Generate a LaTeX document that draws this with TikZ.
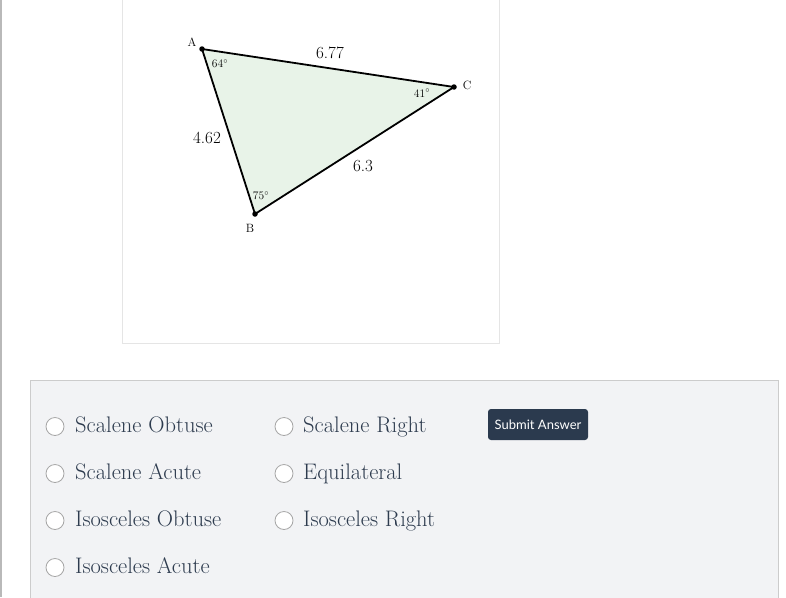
\documentclass[tikz,border=0pt]{standalone}
\usepackage{fontspec}
\newfontfamily\btnfont{Lato}
\definecolor{panelgray}{HTML}{F2F3F5}
\definecolor{panelline}{HTML}{CCCCCC}
\definecolor{inkslate}{HTML}{2D3B4E}
\definecolor{btnblue}{HTML}{2B3A4E}
\definecolor{trifill}{HTML}{E8F3E8}
\tikzset{
  radio/.style={circle,draw=gray!70,fill=white,line width=0.8pt,minimum size=18pt,inner sep=0pt},
  choice/.style={anchor=base west,text=inkslate,font=\fontsize{22.5}{26}\selectfont,inner sep=0pt},
  vertex/.style={circle,fill=black,inner sep=0pt,minimum size=5.5pt},
  vlabel/.style={font=\fontsize{12}{14}\selectfont,inner sep=0pt},
  side/.style={font=\fontsize{17}{19}\selectfont,inner sep=0pt},
  ang/.style={font=\fontsize{11.5}{13}\selectfont,inner sep=0pt}
}
\begin{document}
\begin{tikzpicture}[x=1pt,y=-1pt]
      \useasboundingbox (0,0) rectangle (786,597);
      \fill[white] (0,0) rectangle (786,597);
      \fill[gray!55] (0,0) rectangle (2,597);
      % figure box
      \draw[gray!20] (122.5,-2) rectangle (499.5,343.5);
      % triangle
      \coordinate (A) at (202,49);
      \coordinate (B) at (255,214);
      \coordinate (C) at (454,87);
      \filldraw[fill=trifill,draw=black,line width=1.8pt,line join=round] (A) -- (C) -- (B) -- cycle;
      \node[vertex] (pa) at (A) {};
      \node[vertex] (pb) at (B) {};
      \node[vertex] (pc) at (C) {};
      \node[vlabel] (la) at (192,42) {A};
      \node[vlabel] (lb) at (250,228) {B};
      \node[vlabel] (lc) at (467,85) {C};
      \node[side] (sac) at (330,53) {6.77};
      \node[side] (sab) at (207,138) {4.62};
      \node[side] (sbc) at (363,166) {6.3};
      \node[ang] (aa) at (220,64) {64$^\circ$};
      \node[ang] (ac) at (422,93) {41$^\circ$};
      \node[ang] (ab) at (261,196) {75$^\circ$};
      % answer panel
      \fill[panelgray] (30,380) rectangle (778,600);
      \draw[panelline] (30.5,600) -- (30.5,380.5) -- (778.5,380.5) -- (778.5,600);
      \node[radio] (r1) at (55,426.5) {};
      \node[radio] (r2) at (55,473.5) {};
      \node[radio] (r3) at (55,520.5) {};
      \node[radio] (r4) at (55,567.5) {};
      \node[radio] (r5) at (284,426.5) {};
      \node[radio] (r6) at (284,473.5) {};
      \node[radio] (r7) at (284,520.5) {};
      \node[choice] (t1) at (75,432) {Scalene Obtuse};
      \node[choice] (t2) at (75,479) {Scalene Acute};
      \node[choice] (t3) at (75,526) {Isosceles Obtuse};
      \node[choice] (t4) at (75,573) {Isosceles Acute};
      \node[choice] (t5) at (303,432) {Scalene Right};
      \node[choice] (t6) at (303,479) {Equilateral};
      \node[choice] (t7) at (303,526) {Isosceles Right};
      \node[fill=btnblue,rounded corners=3pt,minimum width=100pt,minimum height=31pt,inner sep=0pt,
            text=white,font=\btnfont\fontsize{13}{15}\selectfont] (submit) at (538,424.5) {Submit Answer};
\end{tikzpicture}
\end{document}
